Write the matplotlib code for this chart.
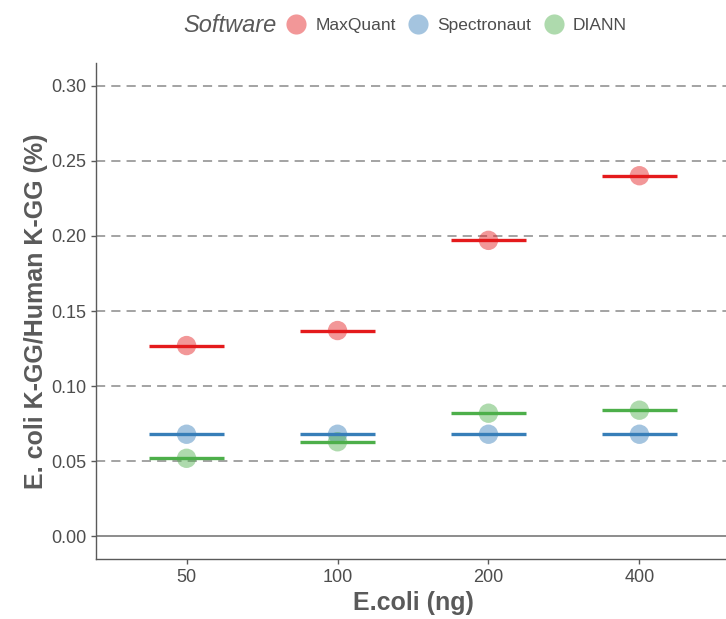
import matplotlib.pyplot as plt
from matplotlib.lines import Line2D

plt.rcParams['font.family'] = ['Liberation Sans', 'DejaVu Sans']

amounts = ["50", "100", "200", "400"]
software = ["MaxQuant", "Spectronaut", "DIANN"]
colors = ["#E41A1C", "#377EB8", "#4DAF4A"]

maxquant = [0.127, 0.137, 0.197, 0.240]
spectronaut = [0.068, 0.068, 0.068, 0.068]
diann = [0.052, 0.063, 0.082, 0.084]
values = [maxquant, spectronaut, diann]

fig = plt.figure(figsize=(7.26, 6.19), dpi=100)
ax = fig.add_axes([96/726, 1-559/619, (730-96)/726, (559-63)/619])

grey = "#5a5a5a"
xs = range(1, len(amounts) + 1)

for yv in [0.05, 0.10, 0.15, 0.20, 0.25, 0.30]:
    ax.axhline(yv, color="#8a8a8a", lw=1.1, ls=(0, (6, 4)), zorder=1)
ax.axhline(0, color="#6e6e6e", lw=1.1, zorder=1)

for name, col, vals in zip(software, colors, values):
    ax.scatter(xs, vals, s=195, color=col, alpha=0.45, edgecolors="none", zorder=3)
    for x, v in zip(xs, vals):
        ax.plot([x - 0.25, x + 0.25], [v, v], color=col, lw=2.4,
                solid_capstyle="butt", zorder=4)

ax.set_xlim(0.4, 4.6)
ax.set_ylim(-0.015, 0.315)
ax.set_xticks(list(xs))
ax.set_xticklabels(amounts)
ax.set_yticks([0, 0.05, 0.10, 0.15, 0.20, 0.25, 0.30])
ax.set_yticklabels(["0.00", "0.05", "0.10", "0.15", "0.20", "0.25", "0.30"])

for s in ["top", "right"]:
    ax.spines[s].set_visible(False)
for s in ["left", "bottom"]:
    ax.spines[s].set_color(grey)
    ax.spines[s].set_linewidth(1.0)
ax.tick_params(colors=grey, labelcolor="#4d4d4d", labelsize=13, length=3.5, width=1.0)

ax.set_xlabel("E.coli (ng)", fontsize=18, fontweight="bold", color=grey, labelpad=4)
ax.set_ylabel("E. coli K-GG/Human K-GG (%)", fontsize=18, fontweight="bold", color=grey, labelpad=2)

# legend on top, title written inline
fig.text(183/726, 1-25/619, "Software", fontsize=17, fontstyle="italic",
         color=grey, ha="left", va="center")
handles = [Line2D([], [], marker="o", ls="none", markersize=14.5, color=c, alpha=0.45,
                  markeredgecolor="none") for c in colors]
fig.legend(handles, software, loc="center left", bbox_to_anchor=(270/726, 1-25/619),
           ncol=3, frameon=False, fontsize=12.5, handletextpad=0.1,
           columnspacing=0.3, borderpad=0, labelcolor="#4d4d4d")

fig.savefig("out.png", dpi=100)
